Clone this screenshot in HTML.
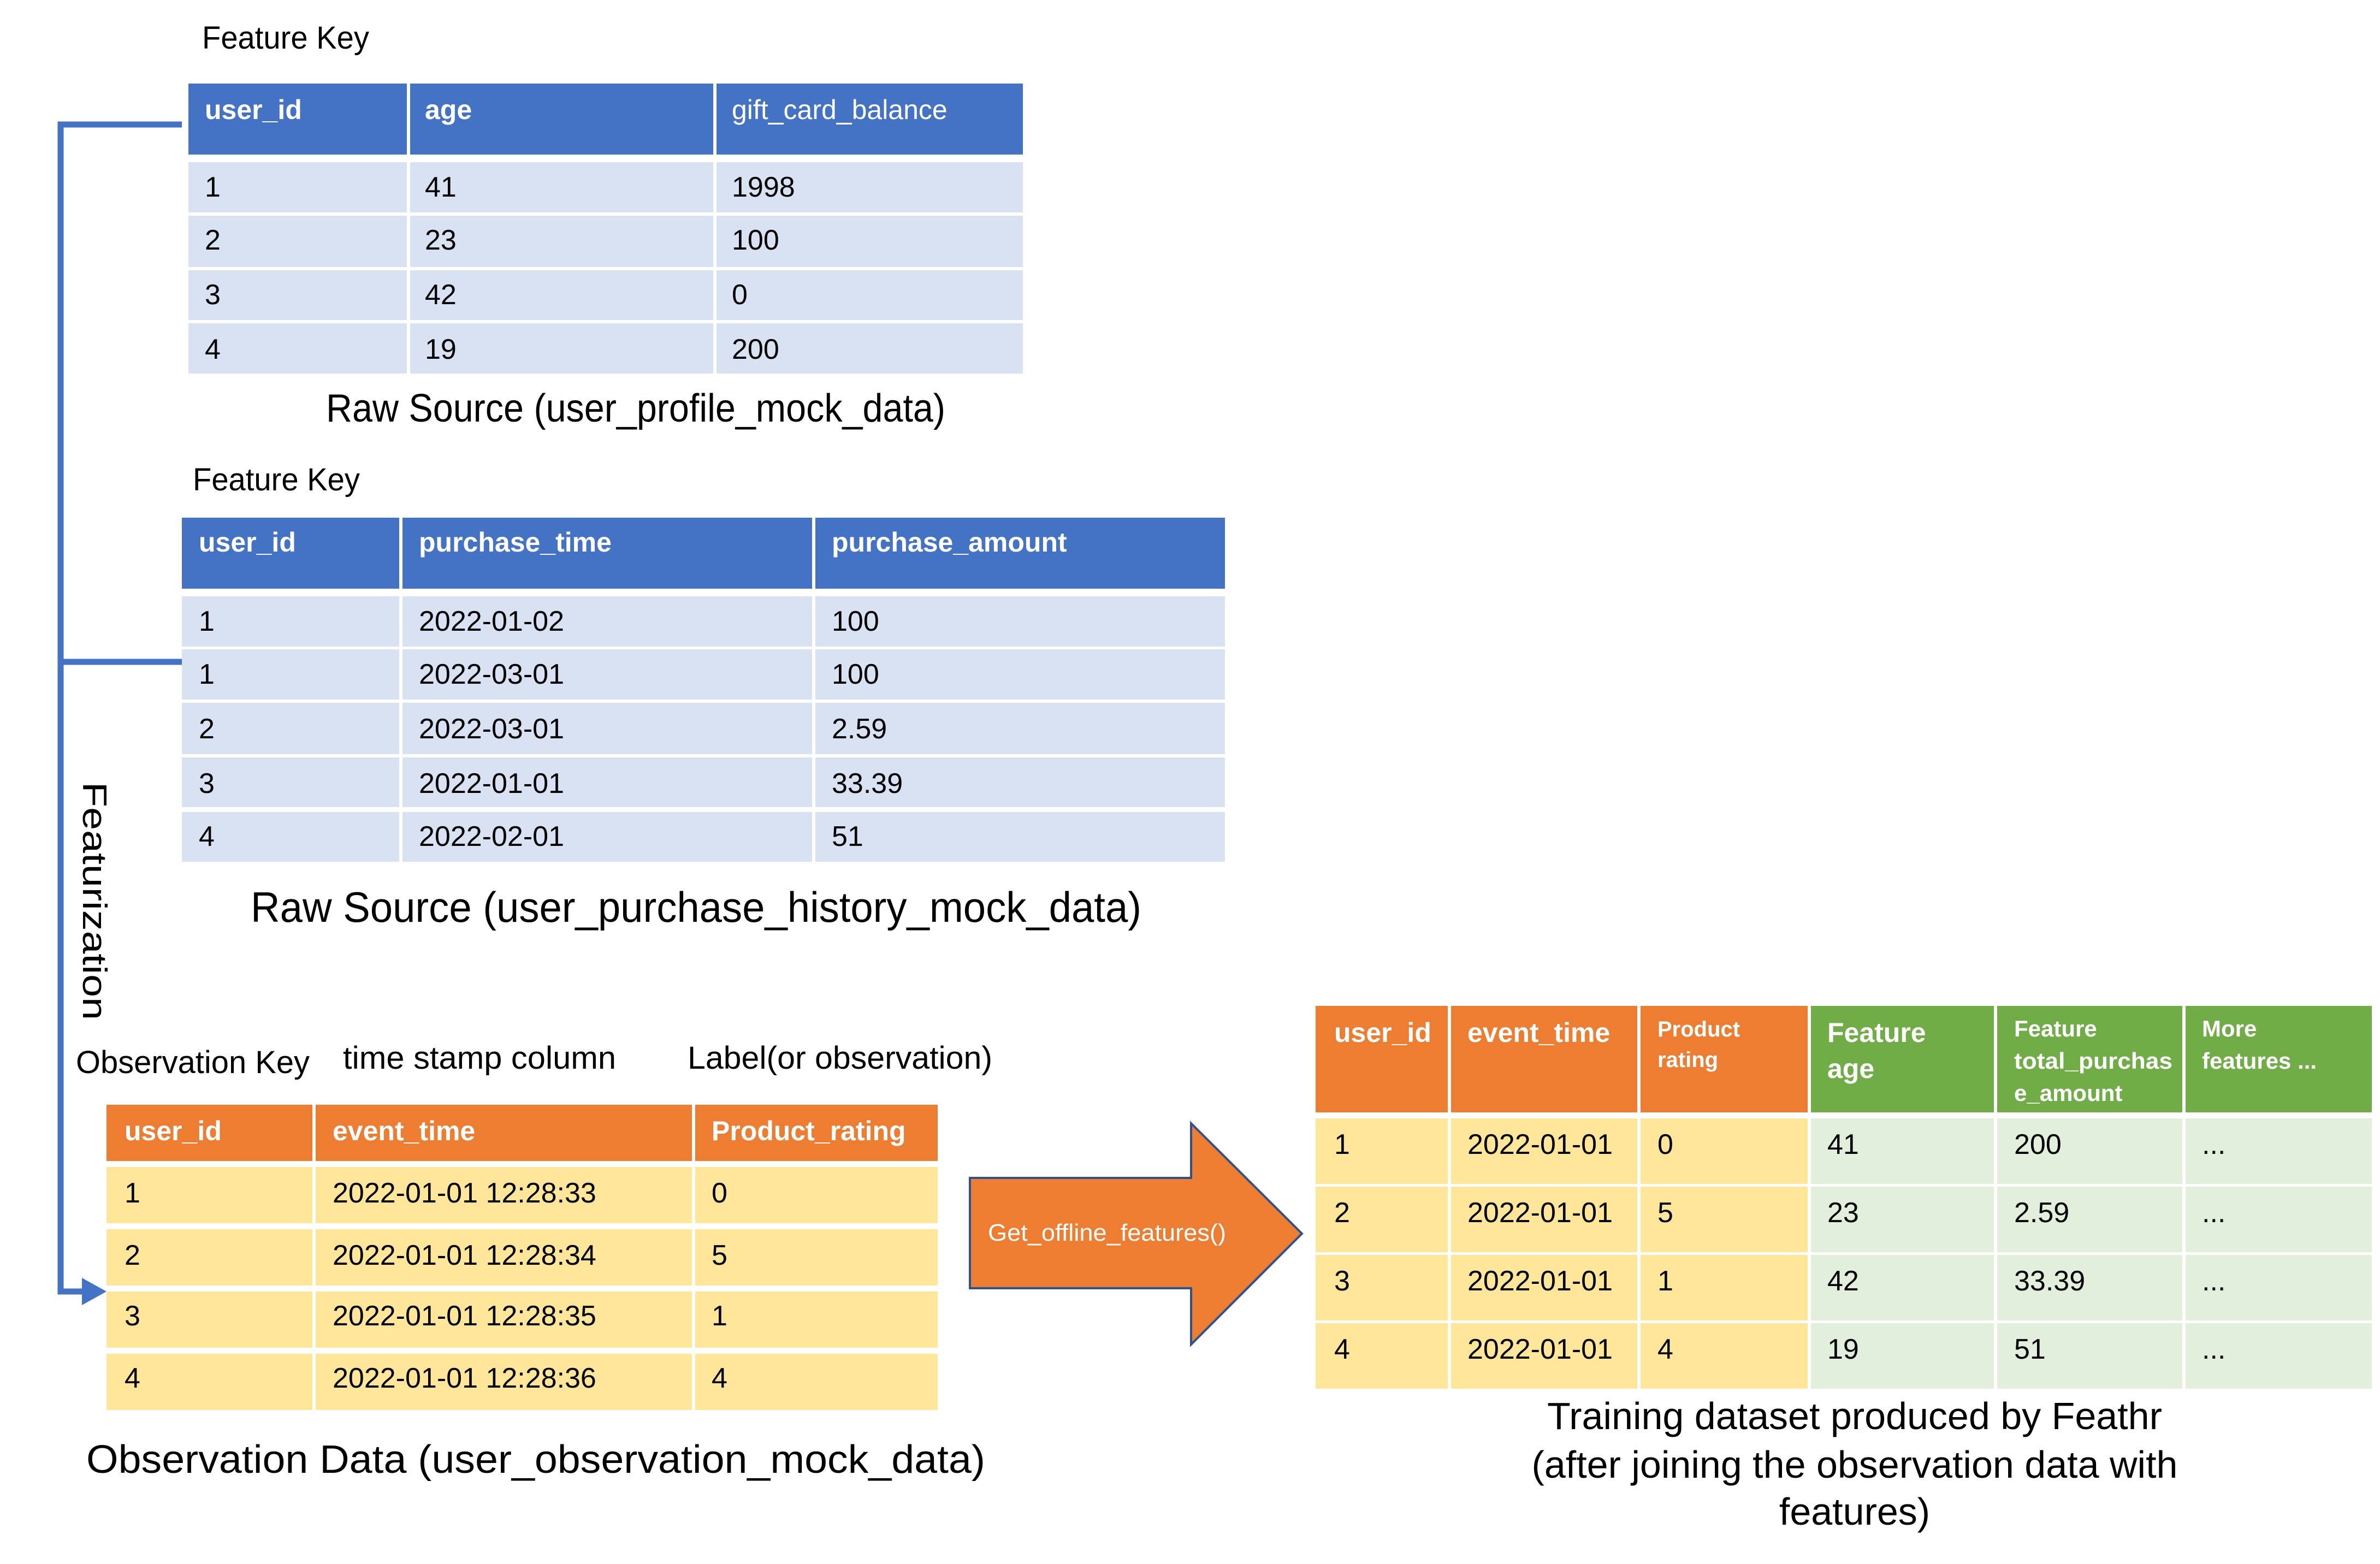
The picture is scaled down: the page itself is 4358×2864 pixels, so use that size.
<!DOCTYPE html>
<html><head><meta charset="utf-8"><style>
html,body{margin:0;padding:0;background:#fff;}
svg{display:block;}
text{font-family:"Liberation Sans Narrow","Liberation Sans",sans-serif;}
.h{fill:#fff;font-weight:bold;font-size:50px;}
.b{fill:#000;font-size:52px;}
.l{fill:#000;font-size:58px;}
.c{fill:#000;font-size:72px;}
</style></head><body>
<svg width="4358" height="2864" viewBox="0 0 4358 2864" xmlns="http://www.w3.org/2000/svg">
<!-- connector -->
<g fill="none" stroke="#4472C4" stroke-width="11">
<polyline points="333,228 111,228 111,2365 160,2365"/>
<line x1="111" y1="1212" x2="333" y2="1212"/>
</g>
<polygon points="150,2340 195,2365 150,2390" fill="#4472C4"/>
<text transform="translate(152,1432) rotate(90)" style="font-family:'Liberation Sans',sans-serif;font-size:62px" textLength="436" lengthAdjust="spacingAndGlyphs">Featurization</text>

<!-- Table 1 -->
<text class="l" x="370" y="89" textLength="306" lengthAdjust="spacingAndGlyphs">Feature Key</text>
<rect x="345" y="153" width="1528" height="130" fill="#4472C4"/>
<g fill="#D9E2F3">
<rect x="345" y="297" width="1528" height="92"/><rect x="345" y="395" width="1528" height="94"/>
<rect x="345" y="495" width="1528" height="91"/><rect x="345" y="592" width="1528" height="92"/>
</g>
<g stroke="#fff" stroke-width="6"><line x1="748" y1="150" x2="748" y2="690"/><line x1="1309" y1="150" x2="1309" y2="690"/></g>
<text class="h" x="375" y="218">user_id</text><text class="h" x="778" y="218">age</text><text class="h" x="1340" y="218" style="font-weight:normal">gift_card_balance</text>
<g class="b">
<text x="375" y="360">1</text><text x="778" y="360">41</text><text x="1340" y="360">1998</text>
<text x="375" y="457">2</text><text x="778" y="457">23</text><text x="1340" y="457">100</text>
<text x="375" y="557">3</text><text x="778" y="557">42</text><text x="1340" y="557">0</text>
<text x="375" y="657">4</text><text x="778" y="657">19</text><text x="1340" y="657">200</text>
</g>
<text class="c" x="597" y="772" textLength="1134" lengthAdjust="spacingAndGlyphs">Raw Source (user_profile_mock_data)</text>

<!-- Table 2 -->
<text class="l" x="353" y="898" textLength="306" lengthAdjust="spacingAndGlyphs">Feature Key</text>
<rect x="333" y="948" width="1910" height="130" fill="#4472C4"/>
<g fill="#D9E2F3">
<rect x="333" y="1092" width="1910" height="92"/><rect x="333" y="1189" width="1910" height="92"/>
<rect x="333" y="1287" width="1910" height="94"/><rect x="333" y="1387" width="1910" height="91"/>
<rect x="333" y="1487" width="1910" height="91"/>
</g>
<g stroke="#fff" stroke-width="6"><line x1="734" y1="945" x2="734" y2="1580"/><line x1="1490" y1="945" x2="1490" y2="1580"/></g>
<text class="h" x="364" y="1010">user_id</text><text class="h" x="767" y="1010">purchase_time</text><text class="h" x="1523" y="1010">purchase_amount</text>
<g class="b">
<text x="364" y="1155">1</text><text x="767" y="1155">2022-01-02</text><text x="1523" y="1155">100</text>
<text x="364" y="1252">1</text><text x="767" y="1252">2022-03-01</text><text x="1523" y="1252">100</text>
<text x="364" y="1352">2</text><text x="767" y="1352">2022-03-01</text><text x="1523" y="1352">2.59</text>
<text x="364" y="1452">3</text><text x="767" y="1452">2022-01-01</text><text x="1523" y="1452">33.39</text>
<text x="364" y="1549">4</text><text x="767" y="1549">2022-02-01</text><text x="1523" y="1549">51</text>
</g>
<text class="c" x="459" y="1688" style="font-size:78px" textLength="1631" lengthAdjust="spacingAndGlyphs">Raw Source (user_purchase_history_mock_data)</text>

<!-- Observation labels -->
<text class="l" x="139" y="1965" textLength="428" lengthAdjust="spacingAndGlyphs">Observation Key</text>
<text class="l" x="628" y="1957" textLength="500" lengthAdjust="spacingAndGlyphs">time stamp column</text>
<text class="l" x="1259" y="1957" textLength="558" lengthAdjust="spacingAndGlyphs">Label(or observation)</text>

<!-- Table 3 -->
<rect x="195" y="2023" width="1522" height="103" fill="#ED7D31"/>
<g fill="#FFE699">
<rect x="195" y="2137" width="1522" height="103"/><rect x="195" y="2251" width="1522" height="103"/>
<rect x="195" y="2365" width="1522" height="103"/><rect x="195" y="2479" width="1522" height="103"/>
</g>
<g stroke="#fff" stroke-width="6"><line x1="575" y1="2020" x2="575" y2="2585"/><line x1="1270" y1="2020" x2="1270" y2="2585"/></g>
<text class="h" x="228" y="2088">user_id</text><text class="h" x="609" y="2088">event_time</text><text class="h" x="1303" y="2088">Product_rating</text>
<g class="b">
<text x="228" y="2202">1</text><text x="609" y="2202">2022-01-01 12:28:33</text><text x="1303" y="2202">0</text>
<text x="228" y="2316">2</text><text x="609" y="2316">2022-01-01 12:28:34</text><text x="1303" y="2316">5</text>
<text x="228" y="2427">3</text><text x="609" y="2427">2022-01-01 12:28:35</text><text x="1303" y="2427">1</text>
<text x="228" y="2541">4</text><text x="609" y="2541">2022-01-01 12:28:36</text><text x="1303" y="2541">4</text>
</g>
<text class="c" x="158" y="2697" textLength="1646" lengthAdjust="spacingAndGlyphs">Observation Data (user_observation_mock_data)</text>

<!-- Arrow -->
<polygon points="1776,2157 2181,2157 2181,2057 2384,2259 2181,2462 2181,2359 1776,2359" fill="#ED7D31" stroke="#2F528F" stroke-width="4"/>
<text x="1809" y="2272" style="fill:#fff;font-size:44px" textLength="436" lengthAdjust="spacingAndGlyphs">Get_offline_features()</text>

<!-- Table 4 -->
<rect x="2409" y="1842" width="904" height="195" fill="#ED7D31"/>
<rect x="3313" y="1842" width="1030" height="195" fill="#70AD47"/>
<g fill="#FFE699">
<rect x="2409" y="2048" width="904" height="120"/><rect x="2409" y="2173" width="904" height="120"/>
<rect x="2409" y="2298" width="904" height="120"/><rect x="2409" y="2423" width="904" height="120"/>
</g>
<g fill="#E2EFDA">
<rect x="3313" y="2048" width="1030" height="120"/><rect x="3313" y="2173" width="1030" height="120"/>
<rect x="3313" y="2298" width="1030" height="120"/><rect x="3313" y="2423" width="1030" height="120"/>
</g>
<g stroke="#fff" stroke-width="6">
<line x1="2654" y1="1840" x2="2654" y2="2545"/><line x1="3001" y1="1840" x2="3001" y2="2545"/>
<line x1="3313" y1="1840" x2="3313" y2="2545"/><line x1="3654" y1="1840" x2="3654" y2="2545"/>
<line x1="3999" y1="1840" x2="3999" y2="2545"/>
</g>
<text class="h" x="2443" y="1908">user_id</text><text class="h" x="2687" y="1908">event_time</text>
<text class="h" x="3035" y="1898" style="font-size:40px">Product</text><text class="h" x="3035" y="1954" style="font-size:40px">rating</text>
<text class="h" x="3346" y="1908">Feature</text><text class="h" x="3346" y="1974">age</text>
<text class="h" x="3688" y="1898" style="font-size:42px">Feature</text>
<text class="h" x="3688" y="1957" style="font-size:42px" textLength="290" lengthAdjust="spacingAndGlyphs">total_purchas</text>
<text class="h" x="3688" y="2016" style="font-size:42px">e_amount</text>
<text class="h" x="4032" y="1898" style="font-size:42px">More</text><text class="h" x="4032" y="1957" style="font-size:42px">features ...</text>
<g class="b">
<text x="2443" y="2113">1</text><text x="2687" y="2113">2022-01-01</text><text x="3035" y="2113">0</text><text x="3346" y="2113">41</text><text x="3688" y="2113">200</text><text x="4032" y="2113">...</text>
<text x="2443" y="2238">2</text><text x="2687" y="2238">2022-01-01</text><text x="3035" y="2238">5</text><text x="3346" y="2238">23</text><text x="3688" y="2238">2.59</text><text x="4032" y="2238">...</text>
<text x="2443" y="2363">3</text><text x="2687" y="2363">2022-01-01</text><text x="3035" y="2363">1</text><text x="3346" y="2363">42</text><text x="3688" y="2363">33.39</text><text x="4032" y="2363">...</text>
<text x="2443" y="2488">4</text><text x="2687" y="2488">2022-01-01</text><text x="3035" y="2488">4</text><text x="3346" y="2488">19</text><text x="3688" y="2488">51</text><text x="4032" y="2488">...</text>
</g>
<g class="c" text-anchor="middle" style="font-size:70px">
<text x="3396" y="2617">Training dataset produced by Feathr</text>
<text x="3396" y="2706">(after joining the observation data with</text>
<text x="3396" y="2792">features)</text>
</g>
</svg>
</body></html>
